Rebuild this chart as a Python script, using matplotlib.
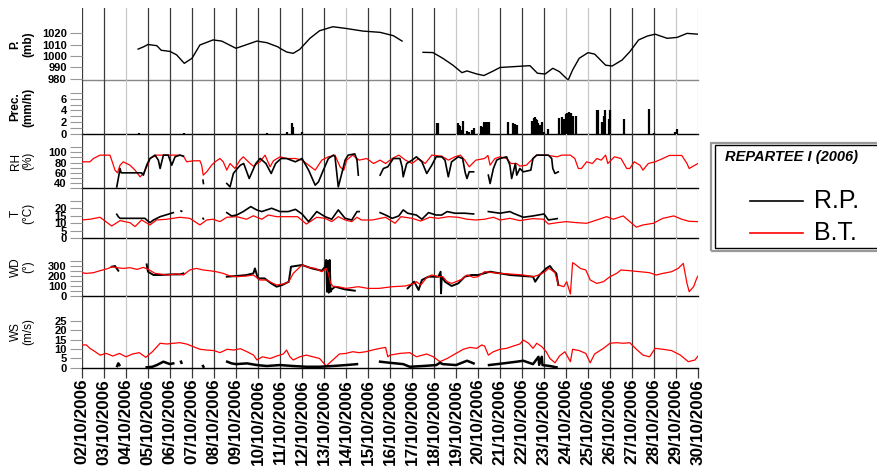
import numpy as np
import matplotlib.pyplot as plt
from matplotlib.patches import Rectangle
from matplotlib.lines import Line2D

plt.rcParams['font.family'] = ['Liberation Sans', 'DejaVu Sans']
nan = np.nan

# days of October 2006 (x axis)
days = list(range(2, 31))
day_labels = ['%02d/10/2006' % d for d in days]
light_days = [4, 14, 19, 20, 24, 25, 29, 30]

# pressure (mb), R.P. only
p_day = [4.55, 4.8, 5.0, 5.4, 5.6, 6.0, 6.3, 6.65, 7.0, 7.36, 7.96, 8.35, 8.7, 9.0,
         9.5, 9.95, 10.4, 10.9, 11.0, 11.3, 11.6, 11.9, 12.36, 12.8, 13.4, 14.0,
         14.77, 15.55, 16.15, 16.55, nan, 17.5, 17.95, 18.4, 18.86, 19.27, 19.5,
         19.95, 20.27, 20.7, 21.0, 21.6, 22.36, 22.7, 23.05, 23.4, 23.7, 24.1,
         24.3, 24.6, 25.0, 25.3, 25.8, 26.1, 26.55, 26.9, 27.3, 27.7, 28.05, 28.6,
         29.05, 29.5, 30.0]
p_rp = [1006, 1008, 1010, 1009, 1005, 1004, 1001, 993.6, 998, 1009.6, 1014, 1013,
        1009.6, 1006.7, 1010, 1013, 1011.6, 1008, 1006.7, 1003.5, 1002.3, 1005.8,
        1015.4, 1022, 1025.5, 1024, 1021.7, 1020.6, 1017.7, 1013, nan, 1003.2,
        1003, 998, 992, 985.5, 987, 984.3, 983, 987, 990, 990.7, 991.6, 985,
        984.3, 989.3, 986.4, 979, 987.8, 998, 1002.9, 1001.7, 992, 991.3, 996.5,
        1003.7, 1014, 1017.4, 1019, 1015.4, 1016.2, 1019.7, 1019]

# precipitation (mm/h), R.P.
prec_day = [4.6, 6.65, 10.4, 11.3, 11.56, 11.6, 11.98, 18.12, 18.2, 19.08, 19.13,
            19.18, 19.26, 19.33, 19.48, 19.6, 19.71, 19.83, 20.12, 20.2, 20.27,
            20.33, 20.39, 20.46, 20.52, 21.38, 21.61, 21.68, 21.76, 22.47, 22.53,
            22.59, 22.65, 22.7, 22.74, 22.82, 22.92, 22.98, 23.17, 23.7, 23.8,
            23.9, 24.0, 24.05, 24.1, 24.15, 24.21, 24.3, 24.45, 25.39, 25.47,
            25.62, 25.72, 25.77, 25.95, 26.0, 26.65, 27.79, 28.0, 28.97, 29.03]
prec_rp = [0.1, 0.2, 0.2, 0.3, 1.8, 1.2, 0.3, 1.9, 1.9, 1.8, 1.5, 1.3, 0.6, 2.2,
           0.5, 0.3, 0.7, 1.0, 1.3, 1.2, 2.0, 2.1, 2.1, 2.0, 2.0, 2.0, 1.8, 1.7,
           1.6, 2.2, 2.7, 2.9, 2.6, 2.3, 1.8, 1.5, 2.0, 0.4, 0.8, 2.8, 2.9, 2.6,
           3.4, 3.5, 3.6, 3.8, 3.6, 3.0, 3.0, 4.0, 4.0, 2.0, 3.0, 4.1, 2.6, 4.0,
           2.6, 4.2, 0.1, 0.3, 0.8]

# relative humidity (%)
rh_bt_day = [2.0, 2.36, 2.52, 2.82, 3.27, 3.35, 3.5, 3.61, 3.73, 3.88, 4.18, 4.41,
             4.64, 4.79, 5.02, 5.09, 5.39, 5.85, 6.45, 6.61, 6.76, 7.06, 7.36, 7.44,
             7.51, 7.67, 7.89, 8.05, 8.27, 8.42, 8.58, 8.73, 8.95, 9.18, 9.33, 9.64,
             9.79, 10.09, 10.32, 10.55, 10.7, 11.0, 11.3, 11.7, 12.0, 12.3, 12.6,
             12.9, 13.2, 13.5, 13.73, 13.9, 14.03, 14.3, 14.6, 14.94, 15.25, 15.55,
             15.8, 16.1, 16.4, 16.7, 17.0, 17.3, 17.6, 17.9, 18.35, 18.65, 18.95,
             19.2, 19.4, 19.6, 19.9, 20.3, 20.45, 20.55, 20.77, 21.0, 21.3, 21.5,
             21.76, 21.9, 22.2, 22.5, 22.67, 23.1, 23.6, 23.8, 24.2, 24.4, 24.56,
             24.7, 24.94, 25.2, 25.4, 25.6, 25.8, 25.9, 26.2, 26.5, 26.76, 26.9,
             27.1, 27.36, 27.5, 27.74, 28.05, 28.3, 28.7, 29.26, 29.5, 29.6, 29.86,
             30.0]
rh_bt = [81.5, 81.5, 88, 94.6, 94.6, 84.8, 65.2, 60, 74.9, 81.5, 74.9, 65.2, 52.1,
         58.6, 78.2, 88, 94.6, 94.6, 94.6, 92.6, 81.5, 83.5, 83.5, 74.9, 55.4, 62,
         74.9, 81.5, 88, 81.5, 65.2, 78.2, 68.4, 84.8, 91.3, 78.2, 73, 81.5, 94.6,
         71.7, 83.5, 91.3, 88, 88, 84.8, 74.9, 65.2, 84.8, 91.3, 94.6, 71.7, 65.2,
         84.8, 94.6, 84.8, 88, 78.2, 84.8, 78.2, 88, 94.6, 84.8, 78.2, 88, 78.2,
         94.6, 92.6, 84.8, 91.3, 94.6, 84.8, 71.7, 84.8, 88, 94, 74.9, 88, 91.3,
         88, 78.2, 78.2, 73, 74.9, 88, 94.6, 94.6, 91.3, 94.6, 94.6, 88, 68.4,
         68.4, 81.5, 78.2, 88, 84.8, 94.6, 78.2, 91.3, 88, 68.4, 68.4, 81.5, 74.9,
         65.2, 78.2, 81.5, 86, 94, 94, 78.2, 68.4, 74.9, 78.2]
rh_rp_day = [3.58, 3.65, 3.73, 3.78, 4.3, 4.71, 4.79, 4.94, 5.09, 5.32, 5.47, 5.55,
             5.7, 5.92, 6.08, 6.23, 6.45, 6.61, nan, 7.5, 7.52, nan, 8.58, 8.73,
             8.88, 9.06, 9.2, 9.35, 9.6, 9.8, 9.9, 10.1, 10.36, 10.6, 10.8, 11.05,
             11.3, 11.7, 12.0, 12.3, 12.6, 12.75, 12.97, 13.2, 13.43, 13.5, 13.65,
             13.73, 13.96, 14.1, 14.4, 14.5, 14.56, nan, 15.55, 15.7, 15.9, 16.15,
             16.45, 16.55, 16.6, 16.76, 17.0, 17.2, 17.45, 17.67, 17.9, 18.1, 18.35,
             18.5, 18.65, 18.8, 19.1, 19.3, 19.42, 19.5, 19.6, 19.8, nan, 20.47,
             20.55, 20.7, 20.85, 21.0, 21.3, 21.45, 21.53, 21.7, 21.76, 21.9, 22.06,
             22.4, 22.5, 22.67, 23.2, 23.35, 23.4, 23.5, 23.65]
rh_rp = [32.4, 48.8, 68.4, 59.9, 59.9, 59.9, 55.4, 74.9, 88, 94.6, 84.8, 68.4, 94.6,
         94.6, 74.9, 91.3, 94.6, 92.6, nan, 45.5, 39, nan, 39, 32.4, 58.6, 68.4,
         74.9, 78.2, 48.8, 68.4, 78.2, 88, 78.2, 58.6, 78.2, 88, 88, 81.5, 88,
         65.2, 35.7, 42.3, 65.2, 88, 94.6, 91.3, 32.4, 45.5, 84.8, 94.6, 97, 84.8,
         55.4, nan, 55.4, 68.4, 71.7, 88, 88, 71.7, 52.1, 78.2, 84.8, 91.3, 81.5,
         58.6, 74.9, 91.3, 91.3, 84.8, 52.1, 81.5, 91.3, 88, 60, 48.8, 61.9, 61.9,
         nan, 55.4, 39, 68.4, 84.8, 88, 91.3, 74.9, 48.8, 78.2, 55.4, 68.4, 61.9,
         65.2, 88, 94.6, 94.6, 88, 68.4, 58.6, 61.9]

# temperature (degC)
t_bt_day = [2.0, 2.36, 2.82, 3.35, 3.73, 4.18, 4.41, 4.71, 5.09, 5.39, 5.85, 6.45,
            6.9, 7.36, 7.67, 7.95, 8.27, 8.58, 9.03, 9.48, 9.79, 10.17, 10.47,
            10.85, 11.3, 11.8, 12.2, 12.67, 13.05, 13.35, 13.65, 13.96, 14.26, 14.5,
            14.7, 15.2, 15.8, 16.23, 16.5, 17.0, 17.4, 17.8, 18.2, 18.65, 19.1,
            19.5, 19.9, 20.3, 20.7, 21.0, 21.45, 21.9, 22.5, 22.97, 23.2, 23.6,
            24.0, 24.5, 24.94, 25.4, 25.85, 26.15, 26.6, 26.9, 27.2, 27.5, 27.97,
            28.4, 28.9, 29.26, 29.6, 30.0]
t_bt = [12.2, 12.7, 14, 8.2, 11.8, 10.4, 7.8, 12.2, 8.9, 12.2, 12.7, 14, 13.3, 8.9,
        12.2, 12.7, 11.1, 14, 14.4, 12.7, 15, 12.7, 15.5, 14.4, 14.4, 14.4, 9.5,
        14, 13.3, 11.1, 14.4, 12.2, 11.1, 14, 12.2, 12.2, 14, 10, 14.4, 13.3, 11.5,
        14, 13.3, 14.4, 14, 12.7, 12.2, 12.7, 14, 12.2, 13.3, 11.8, 13.1, 12.7,
        9.5, 10.4, 11.1, 10.4, 10, 12.2, 14.4, 12.7, 14.9, 11.1, 7.4, 8.9, 10,
        13.3, 14.9, 12.7, 11.3, 11.1]
t_rp_day = [3.58, 3.65, 3.73, 4.3, 4.86, 4.94, 5.09, 5.25, 5.55, 5.8, 6.15, nan,
            6.5, 6.53, nan, 7.5, 7.52, nan, 8.58, 8.8, 9.03, 9.33, 9.67, 9.94,
            10.17, 10.62, 11.0, 11.38, 11.7, 12.0, 12.3, 12.67, 13.05, 13.35, 13.65,
            13.96, 14.26, 14.5, 14.6, nan, 15.55, 15.8, 16.1, 16.4, 16.6, 16.8,
            17.2, 17.45, 17.75, 18.1, 18.35, 18.6, 18.95, 19.4, 19.8, nan, 20.47,
            21.0, 21.45, 21.6, 22.06, 22.5, 23.0, 23.2, 23.6]
t_rp = [16, 14.4, 13.3, 13.3, 13.3, 12.2, 10.4, 12.2, 14.4, 15.5, 17.1, nan, 18.2,
        18.0, nan, 13.3, 12.9, nan, 17.1, 14.9, 15.5, 17.8, 21.1, 18.9, 17.8, 20,
        17.8, 17.8, 19.3, 16.2, 11.1, 17.8, 14.4, 12.7, 18.9, 13.3, 12.2, 17.8,
        17.8, nan, 17.1, 15.5, 13.3, 14.9, 18.9, 16.7, 15.5, 12.7, 17.1, 15.5,
        15.5, 17.8, 16.7, 16.7, 16.2, nan, 17.8, 16.7, 17.8, 16.7, 14, 14.9, 16.2,
        12.2, 13.1]

# wind direction (deg)
wd_bt_day = [2.0, 2.2, 2.52, 2.82, 3.2, 3.35, 3.58, 3.88, 4.18, 4.5, 4.79, 5.02,
             5.32, 5.55, 5.85, 6.3, 6.61, 6.9, 7.2, 7.51, 7.8, 8.1, 8.42, 8.73,
             9.03, 9.48, 9.79, 10.09, 10.39, 10.62, 10.85, 11.15, 11.4, 11.6, 12.0,
             12.3, 12.6, 12.9, 13.1, 13.2, 13.3, 13.43, 13.65, 14.0, 14.56, 15.0,
             15.5, 16.1, 16.7, 17.1, 17.2, 17.4, 17.67, 17.9, 18.2, 18.4, 18.6,
             18.8, 19.0, 19.25, 19.5, 19.8, 20.0, 20.3, 20.7, 21.0, 21.45, 22.06,
             22.5, 22.75, 23.05, 23.2, 23.35, 23.5, 23.65, 23.9, 24.03, 24.2, 24.3,
             24.4, 24.65, 24.9, 25.1, 25.4, 25.7, 26.0, 26.3, 26.5, 26.9, 27.36,
             27.8, 28.1, 28.4, 28.8, 29.1, 29.33, 29.5, 29.6, 29.8, 29.94, 30.0]
wd_bt = [230, 223, 230, 250, 273, 290, 280, 273, 280, 263, 283, 263, 223, 217, 207,
         217, 207, 257, 273, 257, 250, 240, 223, 197, 190, 197, 207, 157, 157, 130,
         107, 117, 140, 223, 307, 283, 273, 240, 273, 223, 123, 90, 90, 73, 90, 73,
         73, 90, 97, 123, 140, 107, 183, 207, 190, 190, 140, 123, 140, 163, 207,
         183, 190, 240, 230, 223, 217, 207, 190, 207, 240, 273, 257, 230, 107, 90,
         140, 17, 330, 317, 273, 257, 157, 123, 140, 190, 223, 257, 250, 240, 230,
         207, 223, 240, 273, 323, 123, 40, 90, 173, 197]
wd_rp_day = [3.35, 3.5, 3.65, nan, 4.94, 5.0, 5.25, 5.55, 6.08, 6.45, 6.61, nan,
             8.58, 9.03, 9.48, 9.79, 9.86, 10.0, 10.3, 10.6, 10.85, 11.1, 11.4,
             11.5, 12.0, 12.45, 12.9, 13.05, 13.1, 13.14, 13.18, 13.22, 13.26,
             13.3, 13.34, 13.5, 13.96, 14.4, nan, 16.8, 17.1, 17.3, 17.45, 17.75,
             18.2, 18.3, 18.32, 18.35, 18.5, 18.8, 19.1, 19.4, 19.7, 20.0, 20.55,
             21.45, 22.06, 22.5, 22.6, 22.8, 23.1, 23.27, 23.4, 23.56, 23.65]
wd_rp = [290, 297, 250, nan, 313, 240, 207, 207, 213, 213, 223, nan, 190, 197, 207,
         223, 273, 173, 173, 123, 90, 107, 140, 290, 307, 273, 250, 290, 357, 40,
         350, 30, 357, 40, 60, 90, 63, 50, nan, 73, 140, 57, 157, 190, 190, 240,
         23, 190, 140, 97, 123, 190, 207, 207, 240, 207, 197, 190, 140, 207, 273,
         297, 257, 223, 107]

# wind speed (m/s)
ws_bt_day = [2.0, 2.2, 2.36, 2.6, 2.82, 3.1, 3.4, 3.7, 4.0, 4.3, 4.6, 4.9, 5.2, 5.55,
             5.85, 6.15, 6.45, 6.75, 7.06, 7.36, 7.67, 8.0, 8.27, 8.6, 8.9, 9.2, 9.5,
             9.8, 9.95, 10.2, 10.55, 10.85, 11.15, 11.3, 11.45, 11.6, 11.9, 12.2,
             12.5, 12.8, 13.1, 13.4, 13.7, 14.0, 14.3, 14.6, 14.9, 15.2, 15.55,
             15.8, 15.9, 16.0, 16.45, 16.9, 17.2, 17.67, 17.97, 18.27, 18.6, 19.0,
             19.33, 19.64, 19.94, 20.17, 20.3, 20.47, 20.7, 21.0, 21.3, 21.6, 21.9,
             22.06, 22.3, 22.5, 22.67, 22.9, 23.1, 23.27, 23.5, 23.7, 23.95, 24.2,
             24.3, 24.6, 24.9, 25.1, 25.3, 25.7, 26.0, 26.3, 26.6, 26.9, 27.2, 27.5,
             27.8, 28.05, 28.4, 28.8, 29.2, 29.56, 29.86, 30.0]
ws_bt = [12.1, 12.1, 10.3, 8.5, 6.7, 7.6, 6.2, 7.6, 5.8, 7.3, 8.0, 5.5, 8.5, 13.0,
         12.6, 13.0, 13.3, 12.6, 11.2, 9.8, 9.4, 9.1, 8.0, 9.8, 9.4, 10.1, 8.5, 6.7,
         4.1, 5.8, 4.9, 6.2, 7.3, 9.4, 5.8, 4.1, 5.8, 6.7, 5.8, 4.9, 0.9, 4.1, 7.3,
         7.6, 8.5, 8.0, 8.5, 9.4, 10.3, 10.8, 5.8, 6.7, 7.6, 8.0, 5.8, 7.3, 5.8,
         3.2, 4.9, 7.6, 9.8, 10.8, 10.3, 12.1, 11.5, 6.7, 8.5, 9.8, 10.3, 11.5,
         12.6, 14.7, 13.0, 10.3, 13.0, 11.2, 8.5, 4.9, 2.6, 6.2, 8.5, 3.2, 9.8,
         9.1, 7.6, 2.6, 7.3, 10.3, 13.0, 13.3, 13.0, 13.3, 9.8, 6.7, 5.8, 10.3,
         9.8, 9.1, 6.7, 3.2, 4.1, 6.2]
ws_rp_day = [3.6, 3.65, 3.7, nan, 4.94, 5.2, 5.4, 5.6, 5.7, 6.0, 6.15, nan, 6.5,
             6.52, nan, 7.5, 7.52, nan, 8.6, 8.8, 9.0, 9.5, 9.95, 10.4, 11.0, 11.6,
             12.2, 12.8, 13.4, 14.0, 14.5, nan, 15.55, 16.0, 16.6, 16.9, 17.5, 18.1,
             18.27, 18.4, 19.0, 19.5, 19.8, nan, 20.5, 21.15, 21.76, 22.06, 22.5,
             22.75, 22.78, 22.9, 22.93, 23.27, 23.57]
ws_rp = [0.9, 2.3, 1.4, nan, 0.2, 0.5, 1.4, 2.6, 3.2, 1.9, 2.3, nan, 3.2, 2.6, nan,
         0.9, 0.5, nan, 3.2, 2.3, 1.9, 2.3, 1.4, 0.9, 1.4, 0.9, 0.5, 0.5, 0.9, 1.4,
         1.9, nan, 3.2, 2.6, 1.9, 0.5, 0.9, 1.4, 2.6, 1.9, 1.4, 3.7, 2.3, nan, 1.4,
         2.3, 3.2, 3.7, 1.9, 5.8, 1.5, 5.8, 1.4, 0.9, 0.2]

fig = plt.figure(figsize=(8.78, 4.68), dpi=100)
W, H = 878.0, 468.0
x0, x1 = 82, 698

def panel(top, bot):
    return fig.add_axes([x0 / W, 1 - bot / H, (x1 - x0) / W, (bot - top) / H])

ax_p = panel(8, 80)
ax_pr = panel(80, 134)
ax_rh = panel(134, 188.3)
ax_t = panel(188.3, 238.3)
ax_wd = panel(238.3, 295.7)
ax_ws = panel(295.7, 367.7)

red = '#ff0000'
ax_p.plot(p_day, p_rp, color='k', lw=1.0)
ax_pr.vlines(prec_day, 0, prec_rp, color='k', lw=1.6)
ax_rh.plot(rh_bt_day, rh_bt, color=red, lw=0.9)
ax_rh.plot(rh_rp_day, rh_rp, color='k', lw=1.2)
ax_t.plot(t_bt_day, t_bt, color=red, lw=0.9)
ax_t.plot(t_rp_day, t_rp, color='k', lw=1.2)
ax_wd.plot(wd_rp_day, wd_rp, color='k', lw=1.4)
ax_wd.plot(wd_bt_day, wd_bt, color=red, lw=0.9)
ax_ws.plot(ws_bt_day, ws_bt, color=red, lw=0.9)
ax_ws.plot(ws_rp_day, ws_rp, color='k', lw=1.8)

settings = [
    (ax_p, (979.1, 1041.8), [980, 990, 1000, 1010, 1020], [], 'P.\n(mb)', 'bold'),
    (ax_pr, (0, 9.17), [0, 2, 4, 6], [1, 3, 5, 7], 'Prec.\n(mm/h)', 'bold'),
    (ax_rh, (29.6, 136), [40, 60, 80, 100], [30, 50, 70, 90, 110], 'RH\n(%)', 'normal'),
    (ax_t, (0, 33.3), [0, 5, 10, 15, 20], [25], 'T\n(\u00b0C)', 'normal'),
    (ax_wd, (0, 574), [0, 100, 200, 300], [50, 150, 250, 350], 'WD\n(\u00b0)', 'normal'),
    (ax_ws, (0, 38.3), [0, 5, 10, 15, 20, 25], [], 'WS\n(m/s)', 'normal'),
]

for ax, ylim, yt, ymin, lab, wt in settings:
    ax.set_xlim(2, 30)
    ax.set_ylim(*ylim)
    ax.set_yticks(yt)
    ax.set_yticks(ymin, minor=True)
    ax.set_xticks(days)
    ax.grid(axis='x', color='#3a3a3a', lw=0.9)
    for d, gl in zip(days, ax.xaxis.get_gridlines()):
        if d in light_days:
            gl.set_color('#c8c8c8')
    ax.set_facecolor('none')
    for s in ['top', 'right', 'left']:
        ax.spines[s].set_visible(False)
    ax.spines['bottom'].set_color('k')
    ax.spines['bottom'].set_linewidth(1.0)
    ax.tick_params(axis='y', which='both', direction='out', length=9, width=0.8,
                   color='#999999', labelsize=8, pad=2)
    for t in ax.get_yticklabels():
        t.set_fontweight('bold')
    ax.set_ylabel(lab, fontsize=8.5, fontweight=wt, linespacing=1.1)
    ax.yaxis.set_label_coords(-0.077, 0.5)
    if ax is not ax_ws:
        ax.tick_params(axis='x', length=0, labelbottom=False)

ax_p.spines['bottom'].set_color('#888888')

ax_ws.set_xticklabels(day_labels, rotation=90, fontsize=12.3, fontweight='bold')
ax_ws.tick_params(axis='x', direction='out', length=7, width=0.9, color='#3a3a3a', pad=1)

# legend box
fig.add_artist(Rectangle((711.5 / W, 1 - 250.7 / H), 0.3, 108 / H, transform=fig.transFigure,
                         fill=False, edgecolor='#999999', lw=1.6))
fig.add_artist(Rectangle((715 / W, 1 - 248.3 / H), 0.3, 103.3 / H, transform=fig.transFigure,
                         fill=False, edgecolor='k', lw=1.0))
fig.text(725 / W, 1 - 157 / H, 'REPARTEE I (2006)', fontsize=10.5, fontweight='bold',
         fontstyle='italic', va='center', ha='left')
fig.add_artist(Line2D([750 / W, 803 / W], [1 - 201 / H] * 2, color='k', lw=1.2))
fig.add_artist(Line2D([750 / W, 803 / W], [1 - 232.7 / H] * 2, color=red, lw=1.2))
fig.text(814 / W, 1 - 201 / H, 'R.P.', fontsize=18, va='center', ha='left')
fig.text(814 / W, 1 - 232.7 / H, 'B.T.', fontsize=18, va='center', ha='left')

fig.savefig('out.png', dpi=100)
